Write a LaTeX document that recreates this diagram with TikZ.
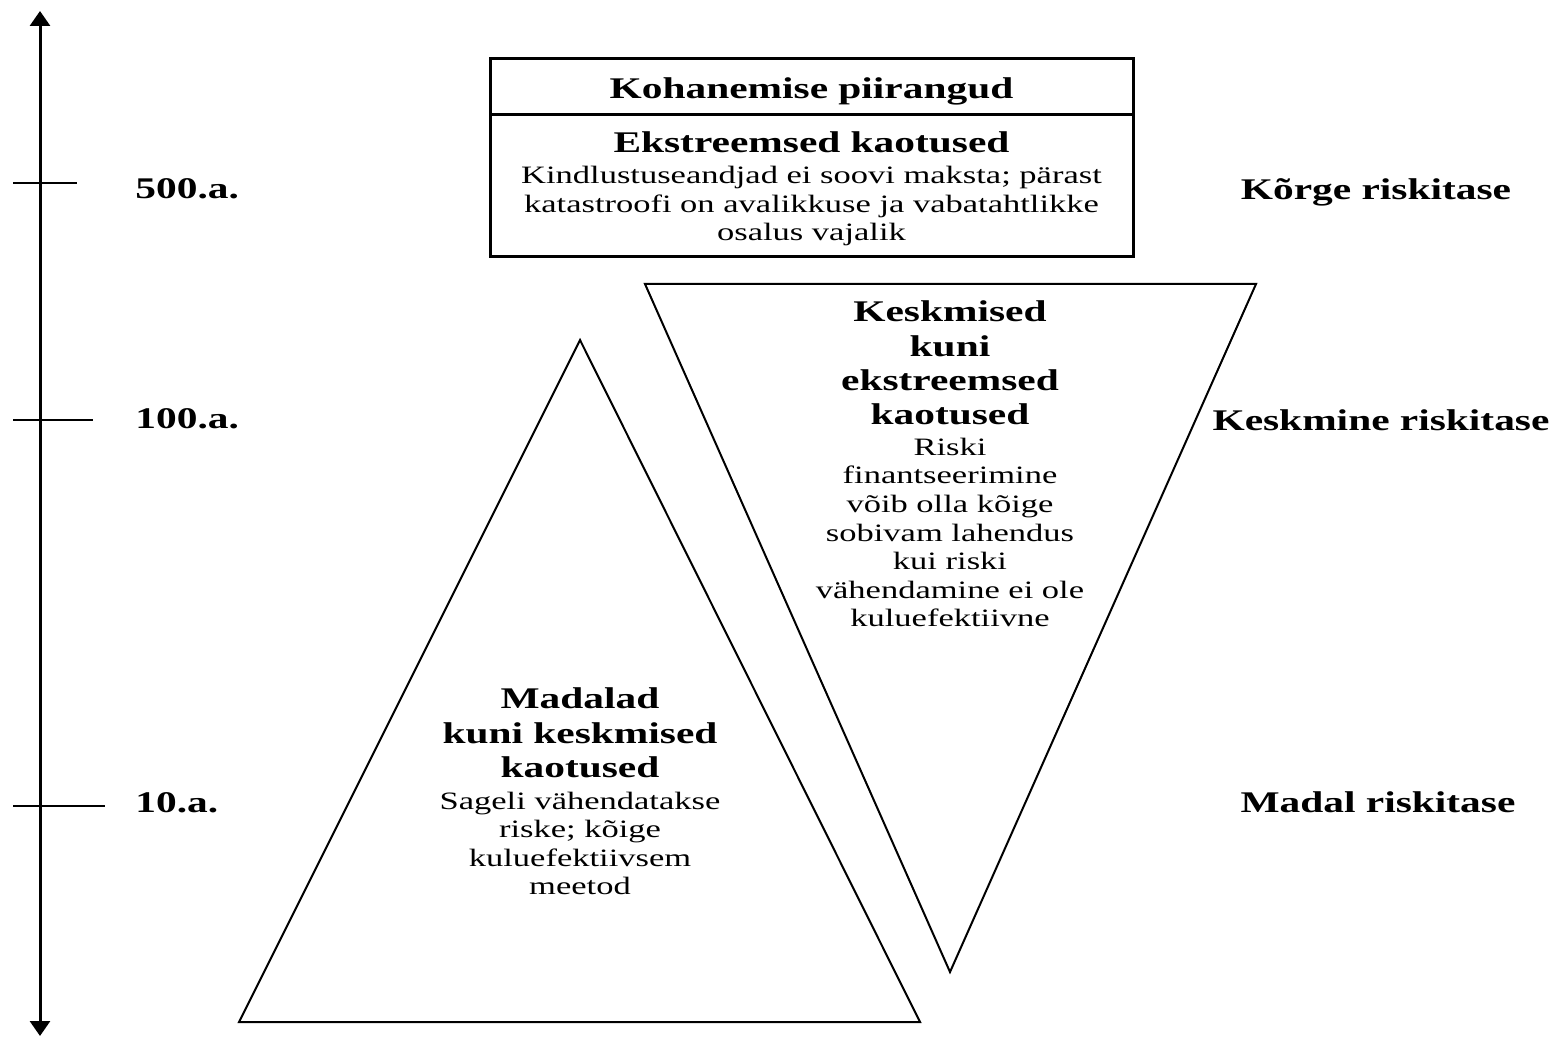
\documentclass[tikz,border=0pt]{standalone}
\usepackage{fontspec}
\setmainfont{Liberation Serif}[FakeStretch=1.38]
\usetikzlibrary{arrows.meta,positioning}

\begin{document}
\begin{tikzpicture}[x=0.5pt,y=-0.5pt,
		hd/.style={inner sep=0pt, align=center, font=\bfseries\fontsize{15}{17.15}\selectfont},
		txt/.style={inner sep=0pt, align=center, font=\fontsize{12.5}{14.3}\selectfont},
		shapeline/.style={line width=1pt, line join=miter},
		axis/.style={line width=1.5pt, {Triangle[length=7.5pt,width=10pt]}-{Triangle[length=7.5pt,width=10pt]}}]
	\useasboundingbox (0,0) rectangle (1557,1037);

	\coordinate (axbot) at (40,1036);
	\coordinate (axtop) at (40,11);
	\draw [axis] (axbot) -- (axtop);
	\foreach \y/\r/\lab/\ly in {183/77/500.a./199, 420/93/100.a./429, 806/105/10.a./812}
	{
		\coordinate (tickl\y) at (13,\y);
		\coordinate (tickr\y) at (\r,\y);
		\draw [line width=1.35pt] (tickl\y) -- (tickr\y);
		\node [hd, anchor=base west] (yr\y) at (135,\ly) {\lab};
	}

	\node [hd, anchor=base] (high) at (1376,200) {Kõrge riskitase};
	\node [hd, anchor=base] (mid) at (1381,430) {Keskmine riskitase};
	\node [hd, anchor=base] (low) at (1378,812) {Madal riskitase};

	\coordinate (boxnw) at (490,59);
	\coordinate (boxse) at (1133,257);
	\coordinate (divl) at (490,115);
	\coordinate (divr) at (1133,115);
	\draw [line width=1.5pt] (boxnw) rectangle (boxse);
	\draw [line width=1.5pt] (divl) -- (divr);
	\node [hd, anchor=base] (limits) at (811.5,99) {Kohanemise piirangud};
	\node [hd, anchor=base] (exthead) at (811.5,153) {Ekstreemsed kaotused};
	\node [txt, below=6pt of exthead] (extbody) {Kindlustuseandjad ei soovi maksta; pärast\\katastroofi on avalikkuse ja vabatahtlikke\\osalus vajalik};

	\coordinate (invl) at (645,284);
	\coordinate (invr) at (1256,284);
	\coordinate (invtip) at (950,972);
	\draw [shapeline] (invl) -- (invr) -- (invtip) -- cycle;
	\node [hd, anchor=north] (midhead) at (950,300.7) {Keskmised\\kuni\\ekstreemsed\\kaotused};
	\node [txt, below=6pt of midhead] (midbody) {Riski\\finantseerimine\\võib olla kõige\\sobivam lahendus\\kui riski\\vähendamine ei ole\\kuluefektiivne};

	\coordinate (triapex) at (580,340);
	\coordinate (tril) at (239,1022);
	\coordinate (trir) at (920,1022);
	\draw [shapeline] (triapex) -- (trir) -- (tril) -- cycle;
	\node [hd, anchor=north] (lowhead) at (580,687.7) {Madalad\\kuni keskmised\\kaotused};
	\node [txt, below=6.5pt of lowhead] (lowbody) {Sageli vähendatakse\\riske; kõige\\kuluefektiivsem\\meetod};
\end{tikzpicture}
\end{document}
